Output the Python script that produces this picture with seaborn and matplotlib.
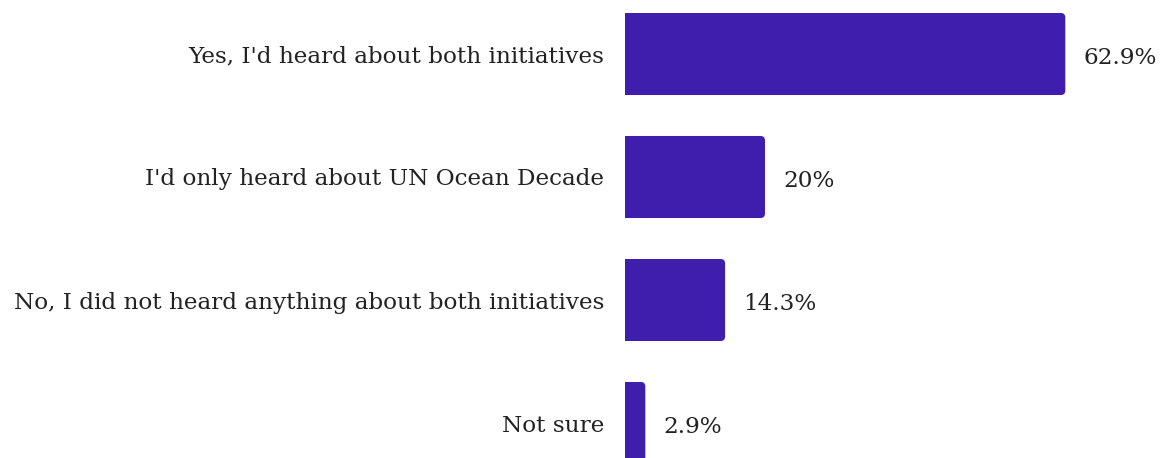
import matplotlib
matplotlib.use("Agg")
import matplotlib.pyplot as plt
from matplotlib.patches import FancyBboxPatch
import seaborn as sns
import pandas as pd

# Survey answers and their share of respondents (%)
answers = [
    "Yes, I'd heard about both initiatives",
    "I'd only heard about UN Ocean Decade",
    "No, I did not heard anything about both initiatives",
    "Not sure",
]
shares = [62.9, 20.0, 14.3, 2.9]
share_labels = ["62.9%", "20%", "14.3%", "2.9%"]

df = pd.DataFrame({"answer": answers, "share": shares})

sns.set_theme(style="white")
plt.rcParams["font.family"] = ["DejaVu Serif"]

BAR_COLOR = "#3F1EAE"
TEXT_COLOR = "#222222"
FONT_SIZE = 16.7

W, H = 1164, 458
fig = plt.figure(figsize=(W / 100, H / 100), dpi=100)
fig.patch.set_facecolor("white")
ax = fig.add_axes([625 / W, 0, (W - 625) / W, 1])

sns.barplot(data=df, x="share", y="answer", color=BAR_COLOR, width=0.667,
            saturation=1, ax=ax, orient="h")

ax.set_xlim(0, (W - 625) / 7.0)
ax.set_ylim(3 + 35 / 123, -54 / 123)

# Round the right-hand corners of each bar (left side is clipped at the axis)
px_x = (W - 625) / ax.get_xlim()[1]
px_y = 123.0
radius_px = 4.5
r = radius_px / px_x
for p in list(ax.patches):
    x0, y0 = p.get_x(), p.get_y()
    w, h = p.get_width(), p.get_height()
    fb = FancyBboxPatch((x0 - 2 * r, y0), w + 2 * r, h,
                        boxstyle=f"round,pad=0,rounding_size={r}",
                        mutation_aspect=(px_x / px_y),
                        facecolor=BAR_COLOR, edgecolor="none")
    p.remove()
    ax.add_patch(fb)

for i, (v, lab) in enumerate(zip(shares, share_labels)):
    ax.annotate(lab, xy=(v, i), xytext=(13, -3), textcoords="offset points",
                ha="left", va="center", fontsize=FONT_SIZE, color=TEXT_COLOR,
                annotation_clip=False)

ax.set_xlabel("")
ax.set_ylabel("")
ax.set_xticks([])
ax.tick_params(axis="y", length=0, pad=15)
for t in ax.get_yticklabels():
    t.set_fontsize(FONT_SIZE)
    t.set_color(TEXT_COLOR)
for s in ax.spines.values():
    s.set_visible(False)

fig.savefig("out.png", dpi=100, facecolor="white")
